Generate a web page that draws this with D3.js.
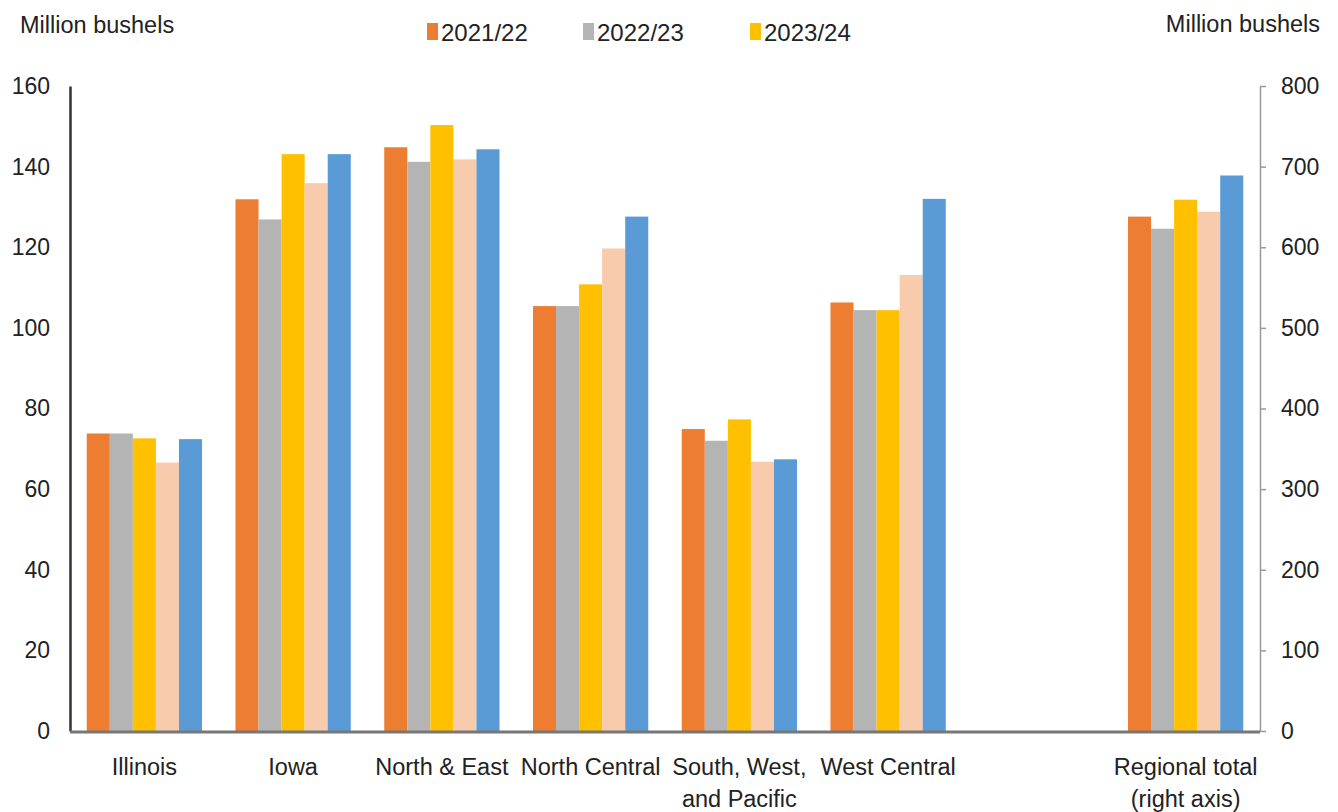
<!DOCTYPE html>
<html><head><meta charset="utf-8">
<script src="https://cdn.jsdelivr.net/npm/d3@7"></script>
<style>
body{margin:0;background:#fff;}
text{font-family:"Liberation Sans",Arial,sans-serif;fill:#222;}
</style></head>
<body><svg id="c" width="1338" height="812"></svg>
<script>
const categories = ["Illinois","Iowa","North & East","North Central","South, West,\nand Pacific","West Central","","Regional total\n(right axis)"];
const seriesNames = ["2021/22","2022/23","2023/24","2024/25","2025/26"];
const legendNames = ["2021/22","2022/23","2023/24"];
const colors = ["#ED7D31","#B4B4B4","#FFC000","#F8CBAD","#5B9BD5"];
const s2021 = [73.8,131.9,144.8,105.4,74.9,106.3,null,638];
const s2022 = [73.8,126.9,141.2,105.4,72.0,104.4,null,623];
const s2023 = [72.6,143.1,150.3,110.8,77.3,104.4,null,659];
const s2024 = [66.6,135.9,141.8,119.7,66.8,113.1,null,644];
const s2025 = [72.4,143.1,144.3,127.6,67.4,132.0,null,689];
const seriesVals = [s2021,s2022,s2023,s2024,s2025];
const leftTicks = [0,20,40,60,80,100,120,140,160];
const rightTicks = [0,100,200,300,400,500,600,700,800];

const svg = d3.select("#c");
const L = 70, R = 1260, T = 86, B = 731;
const x = d3.scaleBand().domain(categories.map((c,i)=>i)).range([L,R]).paddingInner(0).paddingOuter(0);
const yL = d3.scaleLinear().domain([0,160]).range([B,T]);
const yR = d3.scaleLinear().domain([0,800]).range([B,T]);
const groupFrac = 0.775;
const xs = d3.scaleBand().domain(d3.range(seriesNames.length))
  .range([0, x.bandwidth()*groupFrac]);
const offset = x.bandwidth()*(1-groupFrac)/2;

categories.forEach((c,ci)=>{
  if(!c) return;
  const ys = ci === categories.length-1 ? yR : yL;
  seriesVals.forEach((arr,si)=>{
    const v = arr[ci];
    if(v==null) return;
    svg.append("rect")
      .attr("x", x(ci)+offset+xs(si))
      .attr("y", ys(v))
      .attr("width", xs.bandwidth())
      .attr("height", ys(0)-ys(v))
      .attr("fill", colors[si]);
  });
});

// axes
const gl = svg.append("g").attr("transform",`translate(${L},0)`)
  .call(d3.axisLeft(yL).tickValues(leftTicks).tickSize(0).tickSizeOuter(0).tickPadding(20));
const gr = svg.append("g").attr("transform",`translate(${R},0)`)
  .call(d3.axisRight(yR).tickValues(rightTicks).tickSize(6).tickSizeOuter(0).tickPadding(15));
[gl,gr].forEach(g=>{
  g.selectAll(".tick text").style("font-size","23px").attr("fill","#222")
    .attr("font-family","Liberation Sans, Arial, sans-serif");
});
gl.select(".domain").attr("stroke","#333").attr("stroke-width",2.5);
gr.select(".domain").attr("stroke","#999").attr("stroke-width",1.5);
gr.selectAll(".tick line").attr("stroke","#999").attr("stroke-width",1.5);

svg.append("line").attr("x1",L).attr("x2",R).attr("y1",B+1).attr("y2",B+1)
  .attr("stroke","#777").attr("stroke-width",3);

// category labels
categories.forEach((c,ci)=>{
  if(!c) return;
  const lines = c.split("\n");
  const t = svg.append("text").attr("text-anchor","middle")
    .attr("x", x(ci)+x.bandwidth()/2).attr("y", 775).style("font-size","23.5px");
  lines.forEach((ln,li)=>{
    t.append("tspan").attr("x", x(ci)+x.bandwidth()/2).attr("dy", li?32:0).text(ln);
  });
});

// axis titles
svg.append("text").attr("x",20).attr("y",33).style("font-size","23.5px").text("Million bushels");
svg.append("text").attr("x",1320).attr("y",32).attr("text-anchor","end").style("font-size","23.5px").text("Million bushels");

// legend
const legX = [427,583,750];
legendNames.forEach((n,i)=>{
  svg.append("rect").attr("x",legX[i]).attr("y",23).attr("width",11).attr("height",17).attr("fill",colors[i]);
  svg.append("text").attr("x",legX[i]+14).attr("y",41).style("font-size","24px").text(n);
});
</script></body></html>
